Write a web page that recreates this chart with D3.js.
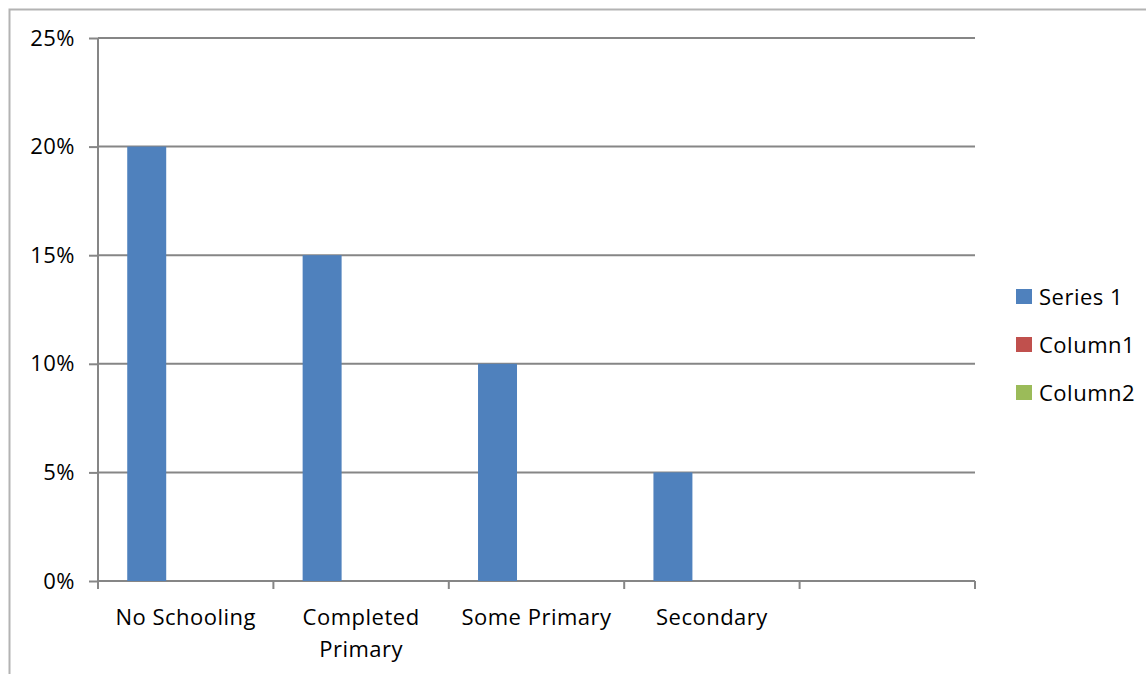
<!DOCTYPE html>
<html>
<head>
<meta charset="utf-8">
<script src="https://cdn.jsdelivr.net/npm/d3@7"></script>
<style>
  body { margin: 0; background: #fff; }
  text { font-family: "Open Sans", sans-serif; fill: #000; letter-spacing: 0.5px; }
</style>
</head>
<body>
<div id="chart"></div>
<script>
// Data
const categories = ["No Schooling", "Completed Primary", "Some Primary", "Secondary", ""];
const seriesNames = ["Series 1", "Column1", "Column2"];
const series1 = [0.20, 0.15, 0.10, 0.05, 0];
const column1 = [0, 0, 0, 0, 0];
const column2 = [0, 0, 0, 0, 0];
const yTicks = [0, 0.05, 0.10, 0.15, 0.20, 0.25];
const colors = ["#4F81BD", "#C0504D", "#9BBB59"];

// Set SVG size and plot margins
let svgWidth = 1147;
let svgHeight = 674;
let margin = { top: 38, left: 98, right: 172, bottom: 93 };
let chartWidth = svgWidth - margin.left - margin.right;
let chartHeight = svgHeight - margin.top - margin.bottom;

let svg = d3.select("#chart")
    .append("svg")
    .attr("width", svgWidth)
    .attr("height", svgHeight);

// outer chart border (only top and left show)
svg.append("path")
    .attr("d", "M9.5,674 V9.5 H1146")
    .attr("fill", "none")
    .attr("stroke", "#b3b3b3")
    .attr("stroke-width", 2);

let chartGroup = svg.append("g")
    .attr("transform", `translate(${margin.left}, ${margin.top})`);

// Scales
let x0 = d3.scaleBand().domain(d3.range(categories.length)).range([0, chartWidth]);
let x1 = d3.scaleBand().domain(seriesNames).range([0, x0.bandwidth()])
    .paddingInner(0).paddingOuter(0.75);
let y = d3.scaleLinear().domain([0, 0.25]).range([chartHeight, 0]);

// Gridlines
chartGroup.append("g")
    .selectAll("line")
    .data(yTicks)
    .enter()
    .append("line")
    .attr("x1", 0)
    .attr("x2", chartWidth)
    .attr("y1", d => y(d))
    .attr("y2", d => y(d))
    .attr("stroke", "#868686")
    .attr("stroke-width", 2);

// Bars
let rows = categories.map((c, i) => ({ i: i, values: [series1[i], column1[i], column2[i]] }));
let groups = chartGroup.selectAll(".cat")
    .data(rows)
    .enter()
    .append("g")
    .attr("transform", d => `translate(${x0(d.i)},0)`);

groups.selectAll("rect")
    .data(d => d.values.map((v, k) => ({ k: k, v: v })))
    .enter()
    .append("rect")
    .attr("x", d => x1(seriesNames[d.k]))
    .attr("width", x1.bandwidth())
    .attr("y", d => y(d.v))
    .attr("height", d => chartHeight - y(d.v))
    .attr("fill", d => colors[d.k]);

// Left axis
let leftAxis = d3.axisLeft(y)
    .tickValues(yTicks)
    .tickFormat(d3.format(".0%"))
    .tickSize(9)
    .tickPadding(14);
let la = chartGroup.append("g").call(leftAxis);
la.select(".domain").attr("stroke", "#868686").attr("stroke-width", 2).attr("d", `M0,0V${chartHeight}`);
la.selectAll(".tick line").attr("stroke", "#868686").attr("stroke-width", 2);
la.selectAll("text").attr("font-size", 22).attr("font-family", "Open Sans").attr("fill", "#000");

// Bottom axis with ticks on category boundaries
let boundaries = d3.range(categories.length + 1).map(i => i * x0.step());
chartGroup.append("g")
    .selectAll("line")
    .data(boundaries)
    .enter()
    .append("line")
    .attr("x1", d => d)
    .attr("x2", d => d)
    .attr("y1", chartHeight)
    .attr("y2", chartHeight + 8)
    .attr("stroke", "#868686")
    .attr("stroke-width", 2);

// Category labels (wrap two-word label that does not fit)
let labelLines = { "Completed Primary": ["Completed", "Primary"] };
let catText = chartGroup.append("g")
    .selectAll("text")
    .data(categories)
    .enter()
    .append("text")
    .attr("text-anchor", "middle")
    .attr("font-size", 22)
    .attr("transform", (d, i) => `translate(${x0(i) + x0.bandwidth() / 2}, ${chartHeight + 44})`);

catText.selectAll("tspan")
    .data(d => labelLines[d] || [d])
    .enter()
    .append("tspan")
    .attr("x", 0)
    .attr("dy", (d, i) => i === 0 ? 0 : 32)
    .text(d => d);

// Legend
let legend = svg.append("g")
    .attr("transform", "translate(1016, 297)");
let items = legend.selectAll("g")
    .data(seriesNames)
    .enter()
    .append("g")
    .attr("transform", (d, i) => `translate(0, ${i * 48})`);
items.append("rect")
    .attr("x", 0)
    .attr("y", -8)
    .attr("width", 16)
    .attr("height", 15)
    .attr("fill", (d, i) => colors[i]);
items.append("text")
    .attr("x", 23)
    .attr("y", 0)
    .attr("dy", "0.35em")
    .attr("font-size", 22)
    .text(d => d);
</script>
</body>
</html>
